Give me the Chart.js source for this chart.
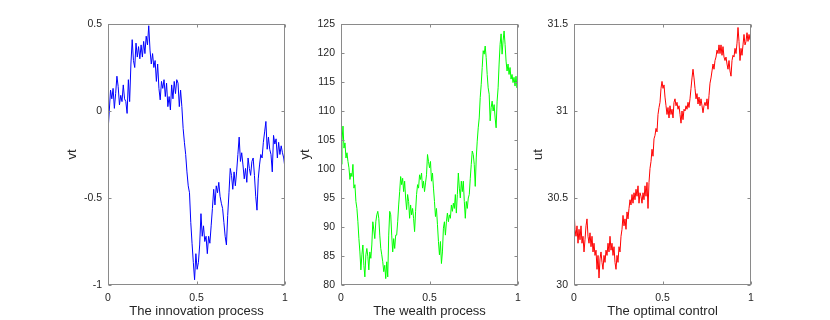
<!DOCTYPE html>
<html>
<head>
<meta charset="utf-8">
<script src="https://cdn.jsdelivr.net/npm/chart.js@4.4.1/dist/chart.umd.min.js"></script>
<style>
    html, body { margin: 0; padding: 0; background: #fff; }
    #wrap { position: relative; width: 830px; height: 320px; overflow: hidden; }
    #wrap canvas { position: absolute; top: 0; }
</style>
</head>
<body>
<div id="wrap">
    <canvas id="innovationChart" width="252" height="320" style="left:48px"></canvas>
    <canvas id="wealthChart" width="252" height="320" style="left:281px"></canvas>
    <canvas id="controlChart" width="252" height="320" style="left:514px"></canvas>
</div>
<script>
// values, evenly spaced over t = 0..1
const innovationValues = [
    -0.12, 0.0, 0.12, 0.07, 0.13, 0.015, 0.10, 0.20, 0.14, 0.035, 0.09, 0.054, 0.15, 0.07, 0.054, -0.014,
    0.18, 0.054, 0.27, 0.41, 0.29, 0.25, 0.39, 0.31, 0.37, 0.30, 0.38, 0.31, 0.40, 0.33, 0.43, 0.38, 0.49,
    0.35, 0.27, 0.33, 0.25, 0.29, 0.17, 0.27, 0.13, 0.064, 0.17, 0.13, 0.18, 0.083, 0.16, 0.025, 0.083,
    0.006, 0.15, 0.07, 0.17, 0.10, 0.18, 0.16, 0.025, 0.12, 0.025, -0.10, -0.18, -0.25, -0.35, -0.43,
    -0.47, -0.64, -0.76, -0.87, -0.97,
    -0.82, -0.91, -0.87, -0.77, -0.59, -0.72, -0.66, -0.75, -0.72, -0.82, -0.72, -0.76, -0.66, -0.56,
    -0.45, -0.54, -0.43, -0.47, -0.41, -0.49, -0.53, -0.56, -0.64, -0.72, -0.77, -0.60, -0.47, -0.33,
    -0.37, -0.45, -0.35, -0.43, -0.35, -0.25, -0.15, -0.29, -0.24, -0.31, -0.39, -0.33, -0.41, -0.27,
    -0.33, -0.37, -0.29, -0.27, -0.37, -0.49, -0.57, -0.39, -0.31, -0.25, -0.27, -0.18, -0.12, -0.06,
    -0.22, -0.15, -0.22, -0.25, -0.35, -0.14, -0.19, -0.16, -0.27, -0.18, -0.25, -0.20, -0.24, -0.27, -0.33
];
const wealthValues = [
    100.8, 104.8, 107.4, 103.6, 104.5, 101.9, 102.8, 101.3, 100.2, 98.2, 99.3, 98.7, 100.8, 96.7, 97.3,
    94.4, 93.2, 90.9, 88.0, 85.7, 82.6, 85.2, 86.9, 83.4, 81.4, 85.2, 86.3, 84.9, 82.6, 85.7, 84.6, 86.9,
    90.9, 89.5, 88.0, 90.9, 92.1, 92.7, 91.5, 88.6, 86.3, 85.2, 84.0, 82.3, 83.4, 81.1, 84.0, 81.4, 88.6,
    92.7, 92.1, 88.6, 85.7, 88.0, 86.3, 88.6, 88.6, 90.9, 93.8, 96.1, 98.7, 97.3, 98.4, 96.1, 97.9, 95.0,
    93.0, 95.6, 94.4, 91.5, 93.8, 92.1, 93.2, 91.5, 89.2, 92.7, 95.6, 97.3, 96.7, 99.0, 98.2, 99.3, 96.7,
    97.9, 96.1, 97.6, 99.0, 102.5, 101.3, 100.2, 101.3,
    97.9, 99.3, 96.7, 94.4, 91.8, 93.2, 90.4, 87.5, 85.2, 87.5, 83.7, 85.7, 89.8, 90.9, 88.6, 90.9, 92.4,
    90.9, 92.1, 91.5, 93.8, 92.7, 94.1, 93.2, 95.6, 92.4, 95.6, 99.3, 96.7, 95.0, 97.9, 96.1, 97.9, 94.4,
    91.5, 94.4, 93.2, 95.0, 95.6, 98.4, 100.8, 103.1, 102.5, 100.8, 97.0, 101.9, 104.8, 107.1, 108.8,
    112.3, 114.6, 117.5, 120.4, 119.8, 121.2, 119.2, 116.3, 114.0, 112.9, 108.3, 110.6, 111.7, 110.0,
    111.1, 108.8, 107.1, 111.7, 114.0, 118.1, 121.5, 123.3, 119.8, 122.1, 123.8, 121.5, 118.6, 116.9,
    118.1, 116.3, 117.5, 115.5, 116.3, 114.9, 115.8, 114.3, 116.0, 114.0, 115.5
];
const controlValues = [
    30.44, 30.32, 30.28, 30.34, 30.24, 30.32, 30.26, 30.34, 30.24, 30.28, 30.19, 30.26, 30.34, 30.38,
    30.28, 30.24, 30.30, 30.22, 30.28, 30.19, 30.24, 30.17, 30.20, 30.09, 30.17, 30.04, 30.15, 30.19,
    30.13, 30.09, 30.17, 30.13, 30.20, 30.17, 30.24, 30.19, 30.28, 30.20, 30.24, 30.17, 30.22, 30.13,
    30.09, 30.17, 30.13, 30.22, 30.19, 30.28, 30.32, 30.40, 30.34, 30.38, 30.32, 30.42, 30.38, 30.44,
    30.49, 30.46, 30.52, 30.47, 30.53, 30.49, 30.55, 30.51, 30.57, 30.47, 30.53, 30.51, 30.47, 30.53,
    30.49, 30.57, 30.51, 30.59, 30.44, 30.59, 30.67, 30.71, 30.78, 30.74, 30.84, 30.86, 30.90, 30.88,
    30.98, 31.02, 31.05, 31.13, 31.17, 31.13,
    31.15, 31.08, 31.03, 30.98, 31.02, 30.96, 31.03, 30.98, 31.01, 30.96, 31.05, 31.07, 31.03, 31.05,
    31.01, 31.03, 30.98, 30.93, 31.00, 30.95, 31.01, 31.00, 31.03, 31.01, 31.05, 31.02, 31.07, 31.13,
    31.19, 31.24, 31.19, 31.13, 31.07, 31.10, 31.04, 31.08, 31.03, 31.07, 31.03, 30.99, 31.03, 31.05,
    31.03, 31.07, 31.01, 31.09, 31.16, 31.19, 31.23, 31.27, 31.24, 31.29, 31.31, 31.35, 31.33, 31.38,
    31.33, 31.38, 31.32, 31.37, 31.31, 31.29, 31.31, 31.27, 31.24, 31.29, 31.23, 31.20, 31.29, 31.32,
    31.31, 31.36, 31.33, 31.39, 31.48, 31.40, 31.29, 31.36, 31.32, 31.38, 31.44, 31.38, 31.40, 31.45,
    31.40, 31.44, 31.41, 31.46
];
const xTicks = [0, 0.5, 1];
const innovationTicks = [-1, -0.5, 0, 0.5];
const wealthTicks = [80, 85, 90, 95, 100, 105, 110, 115, 120, 125];
const controlTicks = [30, 30.5, 31, 31.5];

const textColor = '#262626';
const boxColor = '#8a8a8a';
const fontFamily = '"Liberation Sans", Arial, Helvetica, sans-serif';

// MATLAB-style box with inward tick marks on all four sides
const matlabBox = {
    id: 'matlabBox',
    afterDatasetsDraw(chart) {
        const { ctx, chartArea: a, scales: { x, y } } = chart;
        const l = Math.floor(a.left) + 0.5, r = Math.ceil(a.right) - 0.5;
        const t = Math.floor(a.top) + 0.5, b = Math.ceil(a.bottom) - 0.5;
        ctx.save();
        ctx.strokeStyle = boxColor;
        ctx.lineWidth = 1;
        ctx.strokeRect(l, t, r - l, b - t);
        ctx.beginPath();
        x.ticks.forEach(tk => {
            const px = Math.round(x.getPixelForValue(tk.value)) + 0.5;
            ctx.moveTo(px, b); ctx.lineTo(px, b - 3);
            ctx.moveTo(px, t); ctx.lineTo(px, t + 3);
        });
        y.ticks.forEach(tk => {
            const py = Math.round(y.getPixelForValue(tk.value)) + 0.5;
            ctx.moveTo(l, py); ctx.lineTo(l + 3, py);
            ctx.moveTo(r, py); ctx.lineTo(r - 3, py);
        });
        ctx.stroke();
        ctx.restore();
    }
};

function makePanel(id, values, color, yTicks, yTitle, xTitle) {
    const time = values.map((_, i) => i / (values.length - 1));
    const points = values.map((v, i) => ({ x: time[i], y: v }));
    const tickFont = { family: fontFamily, size: 10.5 };
    const titleFont = { family: fontFamily, size: 13 };
    return new Chart(document.getElementById(id), {
        type: 'line',
        data: {
            datasets: [{
                data: points,
                borderColor: color,
                borderWidth: 1,
                pointRadius: 0,
                tension: 0
            }]
        },
        options: {
            responsive: false,
            animation: false,
            layout: { padding: { left: 0, right: 15, top: 24, bottom: 0 } },
            plugins: { legend: { display: false }, tooltip: { enabled: false } },
            scales: {
                x: {
                    type: 'linear',
                    min: xTicks[0],
                    max: xTicks[xTicks.length - 1],
                    afterBuildTicks: s => { s.ticks = xTicks.map(v => ({ value: v })); },
                    grid: { display: false, drawTicks: false },
                    border: { display: false },
                    ticks: { color: textColor, font: tickFont, padding: 7, maxRotation: 0, autoSkip: false, callback: v => String(v) },
                    title: { display: true, text: xTitle, color: textColor, font: titleFont, padding: { top: 0, bottom: 1 } },
                    afterFit: s => { s.height = 35; }
                },
                y: {
                    type: 'linear',
                    min: yTicks[0],
                    max: yTicks[yTicks.length - 1],
                    afterBuildTicks: s => { s.ticks = yTicks.map(v => ({ value: v })); },
                    grid: { display: false, drawTicks: false },
                    border: { display: false },
                    ticks: { color: textColor, font: tickFont, padding: 6, autoSkip: false, callback: v => String(v) },
                    title: { display: true, text: yTitle, color: textColor, font: titleFont, padding: { top: 17, bottom: 0 } },
                    afterFit: s => { s.width = 60; }
                }
            }
        },
        plugins: [matlabBox]
    });
}

makePanel('innovationChart', innovationValues, '#0000ff', innovationTicks, 'vt', 'The innovation process');
makePanel('wealthChart', wealthValues, '#00ff00', wealthTicks, 'yt', 'The wealth process');
makePanel('controlChart', controlValues, '#ff0000', controlTicks, 'ut', 'The optimal control');
</script>
</body>
</html>
